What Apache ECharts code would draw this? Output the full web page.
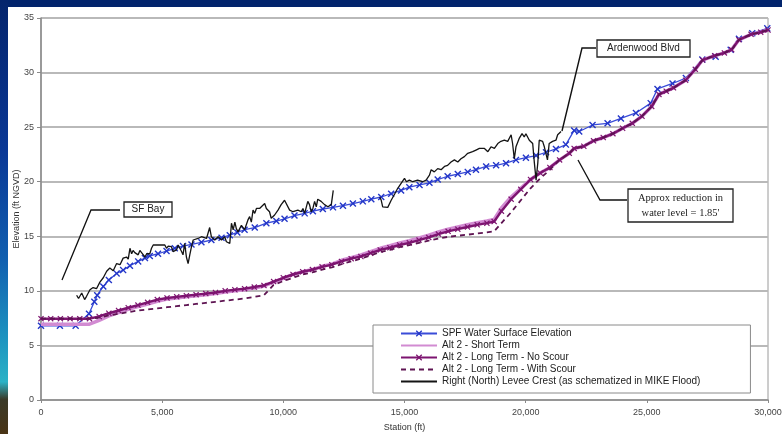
<!DOCTYPE html>
<html><head><meta charset="utf-8">
<script src="https://cdn.jsdelivr.net/npm/echarts@6/dist/echarts.min.js"></script>
<style>
html,body{margin:0;padding:0;}
#wrap{position:relative;width:782px;height:434px;background:#02246c;overflow:hidden;}
#strip{position:absolute;left:0;top:0;width:8px;height:434px;
 background:linear-gradient(to bottom,#04246c 0%,#0a3896 35%,#1160b0 60%,#1d94c0 78%,#2bb2c6 88%,#3a3a28 92%,#4a3416 100%);}
#panel{position:absolute;left:8px;top:7px;right:0;bottom:0;background:#ffffff;}
#chart{position:absolute;left:0;top:0;width:782px;height:434px;}
</style></head>
<body><div id="wrap"><div id="strip"></div><div id="panel"></div><div id="chart"></div></div>
<script>
// ---------- data ----------
const xTicks = [0, 5000, 10000, 15000, 20000, 25000, 30000];
const yTicks = [0, 5, 10, 15, 20, 25, 30, 35];

const seriesNames = [
  "SPF Water Surface Elevation",
  "Alt 2 - Short Term",
  "Alt 2 - Long Term - No Scour",
  "Alt 2 - Long Term - With Scour",
  "Right (North) Levee Crest (as schematized in MIKE Flood)"
];

const spfStation = [0,780,1430,1980,2200,2320,2570,2800,3120,3390,
 3670,4010,4290,4490,4830,5180,5520,5860,6210,6620,
 7030,7450,7790,8100,8400,8820,9300,9710,10050,10460,
 10880,11220,11630,12050,12460,12870,13280,13630,14040,14450,
 14860,15200,15620,16030,16370,16780,17200,17610,17950,18370,
 18780,19190,19600,20010,20430,20840,21250,21660,22000,22210,
 22760,23380,23930,24550,25160,25440,26060,26610,27290,27840,
 28460,28800,29350,29970];
const spfElev = [6.8,6.8,6.8,7.9,9.0,9.6,10.4,11.0,11.6,11.9,
 12.3,12.7,13.0,13.2,13.4,13.65,13.9,14.1,14.25,14.45,
 14.66,14.87,15.1,15.35,15.6,15.8,16.2,16.4,16.6,16.9,
 17.1,17.3,17.5,17.65,17.8,18.0,18.2,18.4,18.6,18.9,
 19.2,19.5,19.7,19.9,20.2,20.5,20.7,20.9,21.1,21.4,
 21.5,21.7,22.0,22.2,22.4,22.7,23.0,23.4,24.7,24.6,
 25.2,25.35,25.8,26.3,27.2,28.5,29.0,29.5,31.2,31.45,
 32.1,33.1,33.6,34.05];

const altStation = [0,400,800,1200,1600,2000,
 2400,2800,3200,3600,4000,
 4400,4800,5200,5600,6000,
 6400,6800,7200,7600,8000,
 8400,8800,9200,9600,10000,
 10400,10800,11200,11600,12000,
 12400,12800,13200,13600,14000,
 14400,14800,15200,15600,16000,
 16400,16800,17200,17600,18000,
 18400,18700,19000,
 19400,19800,20200,20600,21000,
 21400,21800,22000,
 22400,22800,23200,23600,24000,
 24400,24800,25200,25500,25800,
 26100,26600,27000,27300,27800,
 28200,28500,28800,29300,29700,30000];
const shortTermElev = [6.95,6.95,6.95,6.95,6.95,6.95,
 7.3,7.7,8.0,8.3,8.55,
 8.8,9.05,9.25,9.35,9.45,
 9.55,9.65,9.75,9.9,10.0,
 10.1,10.25,10.45,10.8,11.15,
 11.5,11.75,11.95,12.25,12.45,
 12.8,13.05,13.3,13.6,13.9,
 14.15,14.4,14.6,14.85,15.1,
 15.4,15.65,15.85,16.05,16.25,
 16.4,16.55,17.6,
 18.6,19.4,20.2,20.8,21.3,
 22.0,22.6,23.05,
 23.25,23.75,24.05,24.4,24.9,
 25.35,26.0,26.9,28.0,28.3,
 28.6,29.3,30.3,31.15,31.55,
 31.8,32.1,33.0,33.5,33.7,33.9];
const longNoScourElev = [7.45,7.45,7.45,7.45,7.45,7.45,
 7.65,7.95,8.2,8.45,8.7,
 8.95,9.2,9.35,9.45,9.55,
 9.65,9.75,9.85,10.0,10.1,
 10.2,10.35,10.5,10.85,11.2,
 11.5,11.75,11.95,12.2,12.4,
 12.7,12.95,13.15,13.45,13.75,
 13.95,14.2,14.4,14.65,14.9,
 15.2,15.45,15.65,15.85,16.05,
 16.2,16.35,17.3,
 18.4,19.3,20.2,20.8,21.3,
 22.0,22.6,23.05,
 23.25,23.75,24.05,24.4,24.9,
 25.35,26.0,26.9,28.0,28.3,
 28.6,29.3,30.3,31.15,31.55,
 31.8,32.1,33.0,33.5,33.7,33.9];
const longScourElev = [7.45,7.45,7.45,7.45,7.45,7.45,
 7.55,7.75,7.9,8.05,8.2,
 8.3,8.4,8.5,8.6,8.7,
 8.8,8.9,9.0,9.1,9.2,
 9.3,9.45,9.6,10.55,10.9,
 11.2,11.5,11.7,11.95,12.15,
 12.45,12.7,12.95,13.25,13.55,
 13.75,14.0,14.2,14.4,14.6,
 14.8,14.95,15.05,15.15,15.25,
 15.35,15.45,16.2,
 17.2,18.3,19.4,20.3,21.1,
 22.0,22.6,23.05,
 23.25,23.75,24.05,24.4,24.9,
 25.35,26.0,26.9,28.0,28.3,
 28.6,29.3,30.3,31.15,31.55,
 31.8,32.1,33.0,33.5,33.7,33.9];

const leveeStationA = [1470,1550,1680,1800,1880,2020,2150,2290,2430,2570,
 2710,2840,2980,3120,3260,3390,3530,3600,3670,3740,
 3800,3870,4010,4080,4150,4290,4360,4490,4560,4630,
 4770,4970,5110,5180,5250,5380,5450,5590,5660,5730,
 5800,5860,5930,6000,6070,6140,6210,6280,6480,6620,
 6830,6960,7030,7170,7310,7450,7580,7650,7790,7860,
 7930,8000,8060,8130,8270,8400,8540,8610,8680,8750,
 8820,8890,9020,9230,9300,9430,9500,9640,9780,9910,
 10050,10120,10260,10400,10600,10740,10810,10880,11010,11080,
 11150,11220,11290,11360,11420,11560,11630,11700,11840,11980,
 12040,12060];
const leveeElevA = [9.6,9.3,9.8,9.2,9.5,10.1,10.3,10.2,10.8,11.2,
 11.8,12.1,11.85,12.5,12.4,13.0,13.1,12.9,13.9,13.4,
 13.7,13.5,13.3,13.7,13.5,13.1,13.4,13.4,13.9,14.2,
 14.2,14.2,14.2,13.9,14.1,14.05,13.6,13.75,14.2,14.05,
 13.6,13.3,14.35,13.1,12.5,13.3,14.05,14.66,14.8,14.96,
 14.8,15.8,14.96,14.66,14.96,14.66,14.96,14.5,14.35,16.2,
 15.6,16.3,15.7,15.4,16.0,15.6,16.5,16.8,16.3,17.4,
 17.1,17.55,17.55,18.0,17.55,17.25,16.65,16.95,17.4,17.9,
 18.3,18.2,17.4,17.25,17.4,17.25,17.55,17.1,18.2,17.9,
 17.25,17.55,18.2,17.7,18.4,18.2,18.3,17.9,17.7,17.9,
 17.9,19.2];
const leveeStationB = [13980,14040,14100,14310,14450,14600,14720,14860,15000,15080,
 15200,15340,15540,15750,15890,16030,16100,16230,16370,16510,
 16650,16780,16920,17060,17200,17330,17470,17610,17810,17950,
 18090,18300,18440,18570,18710,18850,18980,19120,19260,19400,
 19460,19530,19600,19740,19850,19940,20010,20150,20290,20360,
 20430,20500,20560,20700,20770,20900,20970,21110,21250,21320,
 21390,21460];
const leveeElevB = [18.6,18.3,17.7,17.65,18.3,18.9,19.4,19.85,20.3,20.0,
 20.15,20.0,20.15,20.0,20.15,20.6,21.1,20.9,21.2,21.1,
 21.4,21.5,21.8,22.0,21.8,22.1,22.3,22.6,22.75,22.9,
 23.05,23.05,22.75,23.2,23.05,23.5,23.7,23.8,23.7,24.3,
 23.5,22.1,23.2,24.0,24.4,24.1,24.4,23.8,23.5,21.7,
 20.15,21.7,23.8,23.7,23.2,22.0,23.5,23.7,23.8,24.3,
 24.4,24.6];

// ---------- build ----------
const pairs = (xs, ys) => xs.map((x, i) => [x, ys[i]]);
const leveeData = pairs(leveeStationA, leveeElevA)
  .concat([[13000, '-']])
  .concat(pairs(leveeStationB, leveeElevB));

const XSYM = 'path://M0,1.4L1.4,0L5,3.6L8.6,0L10,1.4L6.4,5L10,8.6L8.6,10L5,6.4L1.4,10L0,8.6L3.6,5Z';
const FONT = '"Liberation Sans", Arial, sans-serif';
const noSym = {opacity: 0};

const chart = echarts.init(document.getElementById('chart'), null, {renderer: 'canvas'});
chart.setOption({
  animation: false,
  backgroundColor: 'transparent',
  grid: {left: 41, right: 14, top: 18, bottom: 34, show: true, backgroundColor: '#ffffff',
         borderColor: '#9a9a9a', borderWidth: 1, outerBoundsMode: 'none', containLabel: false},
  xAxis: {
    type: 'value', min: xTicks[0], max: xTicks[xTicks.length - 1], interval: 5000,
    name: 'Station (ft)', nameLocation: 'middle', nameGap: 23, nameMoveOverlap: false,
    nameTextStyle: {fontFamily: FONT, fontSize: 9, color: '#333'},
    axisLine: {show: true, lineStyle: {color: '#8a8a8a', width: 1.5}},
    axisTick: {show: true, length: 3, lineStyle: {color: '#8a8a8a'}},
    axisLabel: {fontFamily: FONT, fontSize: 9, color: '#444', margin: 8,
                formatter: v => v.toLocaleString('en-US')},
    splitLine: {show: false}
  },
  yAxis: {
    type: 'value', min: yTicks[0], max: yTicks[yTicks.length - 1], interval: 5,
    name: 'Elevation (ft NGVD)', nameLocation: 'middle', nameGap: 20, nameMoveOverlap: false,
    nameTextStyle: {fontFamily: FONT, fontSize: 9, color: '#333'},
    axisLine: {show: true, lineStyle: {color: '#8a8a8a', width: 1.5}},
    axisTick: {show: true, length: 4, lineStyle: {color: '#8a8a8a'}},
    axisLabel: {fontFamily: FONT, fontSize: 9, color: '#444', margin: 7},
    splitLine: {show: true, lineStyle: {color: '#b9b9b9', width: 2}}
  },
  legend: {
    orient: 'vertical', left: 373, top: 325,
    padding: [3, 50, 6, 27],
    backgroundColor: '#ffffff', borderColor: '#8a8a8a', borderWidth: 1,
    itemWidth: 36, itemHeight: 8, itemGap: 1,
    textStyle: {fontFamily: FONT, fontSize: 10, color: '#222', lineHeight: 11},
    data: [
      {name: seriesNames[0]},
      {name: seriesNames[1], itemStyle: noSym},
      {name: seriesNames[2]},
      {name: seriesNames[3], itemStyle: noSym},
      {name: seriesNames[4], itemStyle: noSym}
    ]
  },
  series: [
    {name: seriesNames[0], type: 'line', data: pairs(spfStation, spfElev),
     symbol: XSYM, symbolSize: 7, showAllSymbol: true,
     itemStyle: {color: '#2336c8'}, lineStyle: {color: '#3a4cd8', width: 1.3}, z: 2},
    {name: seriesNames[1], type: 'line', data: pairs(altStation, shortTermElev),
     symbol: 'none', itemStyle: {color: '#d28bd2'}, lineStyle: {color: '#d28bd2', width: 3.5}, z: 3},
    {name: seriesNames[2], type: 'line', data: pairs(altStation, longNoScourElev),
     symbol: XSYM, symbolSize: 6, showAllSymbol: true,
     itemStyle: {color: '#7d1470'}, lineStyle: {color: '#7d1470', width: 2.4}, z: 4},
    {name: seriesNames[3], type: 'line', data: pairs(altStation, longScourElev),
     symbol: 'none', itemStyle: {color: '#5e1452'},
     lineStyle: {color: '#5e1452', width: 1.8, type: [5, 4]}, z: 5},
    {name: seriesNames[4], type: 'line', data: leveeData, connectNulls: false,
     symbol: 'none', itemStyle: {color: '#222'}, lineStyle: {color: '#141414', width: 1.3}, z: 6}
  ],
  graphic: [
    // SF Bay
    {type: 'polyline', shape: {points: [[120, 210], [91, 210], [62, 280]]},
     style: {stroke: '#111', lineWidth: 1.3, fill: null}, z: 10},
    {type: 'rect', shape: {x: 124, y: 202, width: 48, height: 15},
     style: {fill: '#fff', stroke: '#222', lineWidth: 1.3}, z: 10},
    {type: 'text', x: 148, y: 209.5, style: {text: 'SF Bay', font: '10px ' + FONT, fill: '#222',
     align: 'center', verticalAlign: 'middle'}, z: 11},
    // Ardenwood Blvd
    {type: 'polyline', shape: {points: [[596, 48], [582, 48], [562, 131]]},
     style: {stroke: '#111', lineWidth: 1.4, fill: null}, z: 10},
    {type: 'rect', shape: {x: 597, y: 40, width: 93, height: 17},
     style: {fill: '#fff', stroke: '#222', lineWidth: 1.3}, z: 10},
    {type: 'text', x: 643.5, y: 48.5, style: {text: 'Ardenwood Blvd', font: '10px ' + FONT, fill: '#222',
     align: 'center', verticalAlign: 'middle'}, z: 11},
    // Approx reduction
    {type: 'polyline', shape: {points: [[627, 200], [600, 200], [578, 160]]},
     style: {stroke: '#111', lineWidth: 1.3, fill: null}, z: 10},
    {type: 'rect', shape: {x: 628, y: 189, width: 105, height: 33},
     style: {fill: '#fff', stroke: '#222', lineWidth: 1.3}, z: 10},
    {type: 'text', x: 680.5, y: 205.5, style: {text: "Approx reduction in\nwater level = 1.85'",
     font: '10.5px "Liberation Serif", "Times New Roman", serif', fill: '#222', lineHeight: 15,
     align: 'center', verticalAlign: 'middle'}, z: 11}
  ]
});
</script></body></html>
